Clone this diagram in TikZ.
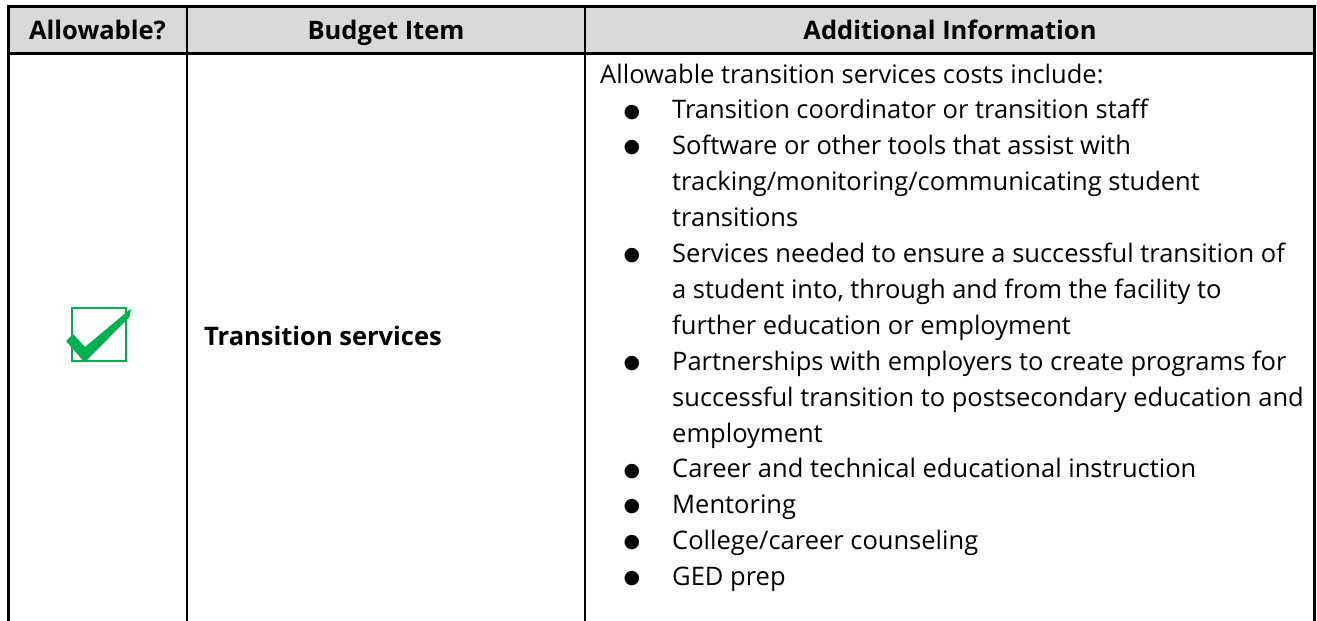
\documentclass[tikz,border=0pt]{standalone}
\usepackage{fontspec}
\setmainfont{Open Sans}
\newfontfamily\bulletfont{DejaVu Sans}
\usepackage{tikz}

\definecolor{headgray}{HTML}{D9D9D9}
\definecolor{checkgreen}{HTML}{00B050}

\tikzset{
  txt/.style={font=\fontsize{25.5}{35.9}\selectfont, anchor=base west, inner sep=0pt},
  head/.style={font=\fontsize{25.5}{35.9}\selectfont\bfseries, anchor=base, inner sep=0pt},
  bul/.style={font=\bulletfont\fontsize{19}{19}\selectfont, inner sep=0pt},
  rule/.style={line width=2.5pt}
}

\begin{document}
\begin{tikzpicture}[x=1pt,y=-1pt]
    \useasboundingbox (0,0) rectangle (1317,621);

    % header row
    \fill[headgray] (8.5,6.5) rectangle (1314.5,53.5);
    \draw[rule] (8.5,621) -- (8.5,6.5) -- (1314.5,6.5) -- (1314.5,621);
    \draw[rule] (8.5,53.5) -- (1314.5,53.5);
    \draw[rule] (187,6.5) -- (187,621);
    \draw[rule] (585,6.5) -- (585,621);

    \node[head] (allow) at (97.5,39) {Allowable?};
    \node[head] (item) at (386,39) {Budget Item};
    \node[head] (info) at (950,39) {Additional Information};

    % check box
    \draw[checkgreen, line width=2.2pt] (72,308) rectangle (126,361);
    \fill[checkgreen] (66,341) -- (73,334) -- (85,347) -- (128.5,310.5) -- (131,309)
        -- (129.5,317) -- (87,360) -- (82.5,360) -- cycle;

    \node[txt, font=\fontsize{25.5}{35.9}\selectfont\bfseries] (service) at (204,345) {Transition services};

    % additional information
    \node[txt] (intro) at (600,83) {Allowable transition services costs include:};

    \node[bul] (b1) at (632,112.1) {●};
    \node[txt] (l1) at (672,118.9) {Transition coordinator or transition staff};
    \node[bul] (b2) at (632,148) {●};
    \node[txt] (l2) at (672,154.8) {Software or other tools that assist with};
    \node[txt] (l3) at (672,190.7) {tracking/monitoring/communicating student};
    \node[txt] (l4) at (672,226.6) {transitions};
    \node[bul] (b3) at (632,255.7) {●};
    \node[txt] (l5) at (672,262.5) {Services needed to ensure a successful transition of};
    \node[txt] (l6) at (672,298.4) {a student into, through and from the facility to};
    \node[txt] (l7) at (672,334.3) {further education or employment};
    \node[bul] (b4) at (632,363.4) {●};
    \node[txt] (l8) at (672,370.2) {Partnerships with employers to create programs for};
    \node[txt] (l9) at (672,406.1) {successful transition to postsecondary education and};
    \node[txt] (l10) at (672,442) {employment};
    \node[bul] (b5) at (632,471.1) {●};
    \node[txt] (l11) at (672,477.9) {Career and technical educational instruction};
    \node[bul] (b6) at (632,507) {●};
    \node[txt] (l12) at (672,513.8) {Mentoring};
    \node[bul] (b7) at (632,542.9) {●};
    \node[txt] (l13) at (672,549.7) {College/career counseling};
    \node[bul] (b8) at (632,578.8) {●};
    \node[txt] (l14) at (672,585.6) {GED prep};
  \end{tikzpicture}
\end{document}
